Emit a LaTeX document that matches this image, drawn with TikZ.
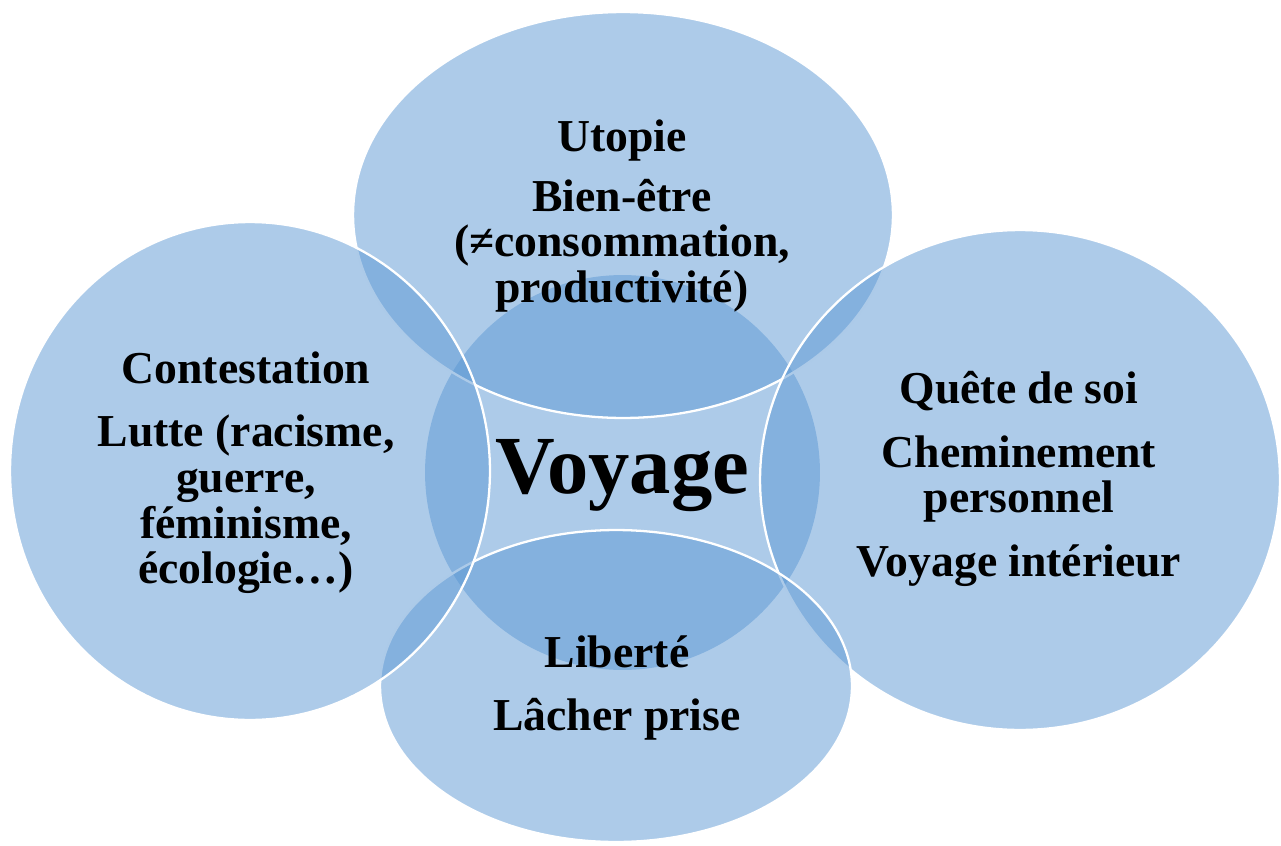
\documentclass[tikz,border=0pt]{standalone}
\usepackage{fontspec}
\setmainfont{Liberation Serif}
\usetikzlibrary{shapes.geometric}

\definecolor{bubbleblue}{RGB}{91,151,211}

\begin{document}
\begin{tikzpicture}[x=0.02cm,y=-0.02cm,
    bubble/.style={ellipse,fill=bubbleblue,fill opacity=0.5,draw=white,line width=1.3pt,inner sep=0pt},
    theme/.style={align=center,font=\bfseries\fontsize{26}{26}\selectfont}]

  \useasboundingbox (0,0) rectangle (1281,845);

  % bubbles, back to front
  \node [bubble,draw=none,minimum width=7.9cm,minimum height=7.9cm] (centre) at (622.5,472.5) {};
  \node [bubble,minimum width=10.8cm,minimum height=8.12cm] (top) at (623,215) {};
  \node [bubble,minimum width=10.4cm,minimum height=10cm] (right) at (1020,480) {};
  \node [bubble,minimum width=9.44cm,minimum height=6.24cm] (bottom) at (616,686) {};
  \node [bubble,minimum width=9.6cm,minimum height=9.96cm] (left) at (250,471) {};

  % texts
  \node [theme,font=\bfseries\fontsize{47}{50}\selectfont] (voyage) at (622,476) {Voyage};
  \node [theme] (utopie) at (622,216) {Utopie\\[8pt] Bien-être\\ (≠consommation,\\ productivité)};
  \node [theme] (contestation) at (246,473) {Contestation\\[10pt] Lutte (racisme,\\ guerre,\\ féminisme,\\ écologie…)};
  \node [theme] (quete) at (1019,479) {Quête de soi\\[10pt] Cheminement\\ personnel\\[10pt] Voyage intérieur};
  \node [theme] (liberte) at (617,688) {Liberté\\[10pt] Lâcher prise};

\end{tikzpicture}
\end{document}
